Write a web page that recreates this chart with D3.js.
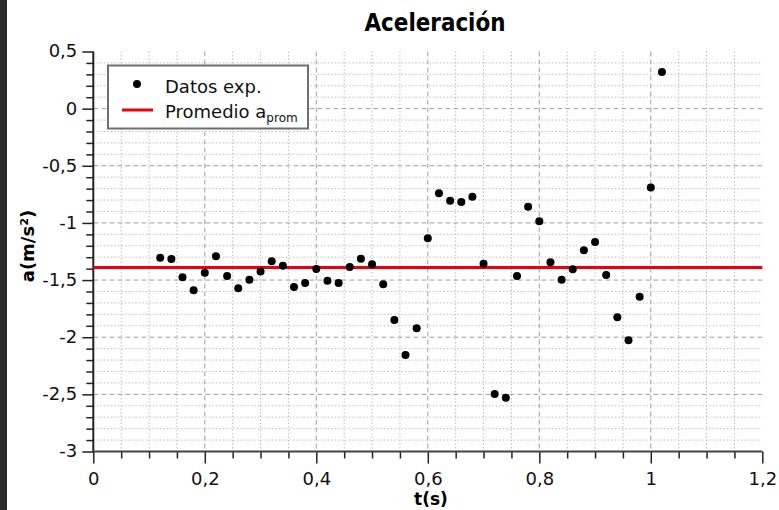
<!DOCTYPE html>
<html>
<head>
<meta charset="utf-8">
<script src="https://cdn.jsdelivr.net/npm/d3@7"></script>
<style>
  html, body { margin: 0; padding: 0; background: #fff; }
  svg { display: block; }
</style>
</head>
<body>
<svg id="chart" width="779" height="510"></svg>
<script>
// ---- Data ----
const tValues = [0.12,0.14,0.16,0.18,0.20,0.22,0.24,0.26,0.28,0.30,0.32,0.34,0.36,0.38,0.40,0.42,0.44,0.46,0.48,0.50,
                 0.52,0.54,0.56,0.58,0.60,0.62,0.64,0.66,0.68,0.70,0.72,0.74,0.76,0.78,0.80,0.82,0.84,0.86,0.88,0.90,
                 0.92,0.94,0.96,0.98,1.00,1.02];
const aValues = [-1.305,-1.316,-1.476,-1.590,-1.436,-1.292,-1.465,-1.572,-1.497,-1.424,-1.336,-1.375,-1.561,-1.526,-1.403,-1.506,-1.526,-1.386,-1.313,-1.362,
                 -1.537,-1.850,-2.156,-1.922,-1.135,-0.741,-0.806,-0.817,-0.771,-1.357,-2.497,-2.530,-1.465,-0.858,-0.986,-1.345,-1.497,-1.406,-1.240,-1.167,
                 -1.456,-1.826,-2.027,-1.646,-0.689,0.320];
const aProm = -1.39;
const xTicks = [0, 0.2, 0.4, 0.6, 0.8, 1, 1.2];
const xTickLabels = ["0", "0,2", "0,4", "0,6", "0,8", "1", "1,2"];
const yTicks = [-3, -2.5, -2, -1.5, -1, -0.5, 0, 0.5];
const yTickLabels = ["-3", "-2,5", "-2", "-1,5", "-1", "-0,5", "0", "0,5"];
const titleText = "Aceleración";
const xLabel = "t(s)";
const yLabel = "a(m/s²)";
const legendLabels = ["Datos exp.", "Promedio a"];
const legendSub = "prom";

// ---- Layout ----
const svg = d3.select("#chart");
const x = d3.scaleLinear().domain([0, 1.2]).range([93.3, 762.3]);
const y = d3.scaleLinear().domain([-3, 0.5]).range([451.5, 51.5]);
const font = "'DejaVu Sans', Verdana, sans-serif";

// dark strip on the left
svg.append("rect").attr("x", 0).attr("y", 0).attr("width", 7).attr("height", 510).attr("fill", "#2b2b2b");

// minor grid
const xMinor = d3.range(1, 24).map(i => i * 0.05).filter(v => Math.abs(v / 0.2 - Math.round(v / 0.2)) > 1e-6);
const yMinor = d3.range(-29, 5).map(i => i * 0.1).filter(v => Math.abs(v / 0.5 - Math.round(v / 0.5)) > 1e-6);
const grid = svg.append("g");
grid.selectAll(".vmin").data(xMinor).join("line")
  .attr("x1", d => x(d)).attr("x2", d => x(d)).attr("y1", y(0.5)).attr("y2", y(-3))
  .attr("stroke", "#bdbdbd").attr("stroke-width", 1).attr("stroke-dasharray", "1.5,2");
grid.selectAll(".hmin").data(yMinor).join("line")
  .attr("x1", x(0)).attr("x2", x(1.2)).attr("y1", d => y(d)).attr("y2", d => y(d))
  .attr("stroke", "#bdbdbd").attr("stroke-width", 1).attr("stroke-dasharray", "1.5,2");
// major grid
grid.selectAll(".vmaj").data(xTicks.filter(v => v > 0 && v < 1.2)).join("line")
  .attr("x1", d => x(d)).attr("x2", d => x(d)).attr("y1", y(0.5)).attr("y2", y(-3))
  .attr("stroke", "#a0a0a0").attr("stroke-width", 1).attr("stroke-dasharray", "5,3");
grid.selectAll(".hmaj").data(yTicks.filter(v => v > -3 && v < 0.5)).join("line")
  .attr("x1", x(0)).attr("x2", x(1.2)).attr("y1", d => y(d)).attr("y2", d => y(d))
  .attr("stroke", "#a0a0a0").attr("stroke-width", 1).attr("stroke-dasharray", "5,3");

// axes
const gxMinor = svg.append("g").attr("transform", `translate(0,${y(-3)})`)
  .call(d3.axisBottom(x).tickValues(xMinor).tickSize(7).tickFormat(""));
const gyMinor = svg.append("g").attr("transform", `translate(${x(0)},0)`)
  .call(d3.axisLeft(y).tickValues(yMinor).tickSize(7).tickFormat(""));
const gx = svg.append("g").attr("transform", `translate(0,${y(-3)})`)
  .call(d3.axisBottom(x).tickValues(xTicks).tickSize(12).tickFormat((d, i) => xTickLabels[i]));
const gy = svg.append("g").attr("transform", `translate(${x(0)},0)`)
  .call(d3.axisLeft(y).tickValues(yTicks).tickSize(11).tickPadding(5).tickFormat((d, i) => yTickLabels[i]));
[gx, gy, gxMinor, gyMinor].forEach(g => {
  g.select(".domain").remove();
  g.selectAll(".tick line").attr("stroke", "#222").attr("stroke-width", 1.5);
});
gx.selectAll("text").attr("y", 33).attr("dy", 0)
  .attr("font-family", font).attr("font-size", 18).attr("fill", "#111");
gy.selectAll("text").attr("dy", "0.3em")
  .attr("font-family", font).attr("font-size", 18).attr("fill", "#111");
// axis lines
svg.append("line").attr("x1", x(0)).attr("x2", x(0)).attr("y1", y(0.5)).attr("y2", y(-3) + 1)
  .attr("stroke", "#222").attr("stroke-width", 2);
svg.append("line").attr("x1", x(0)).attr("x2", x(1.2)).attr("y1", y(-3)).attr("y2", y(-3))
  .attr("stroke", "#444").attr("stroke-width", 2);

// mean line
svg.append("line").attr("x1", x(0)).attr("x2", x(1.2)).attr("y1", y(aProm)).attr("y2", y(aProm))
  .attr("stroke", "#e8000b").attr("stroke-width", 3);

// points
svg.append("g").selectAll("circle").data(tValues).join("circle")
  .attr("cx", d => x(d)).attr("cy", (d, i) => y(aValues[i])).attr("r", 4).attr("fill", "#000");

// title and axis labels
svg.append("text").attr("x", 435).attr("y", 31).attr("text-anchor", "middle")
  .attr("font-family", "'DejaVu Sans Condensed', 'DejaVu Sans', sans-serif").attr("font-weight", "bold")
  .attr("font-size", 24).attr("textLength", 141).attr("lengthAdjust", "spacingAndGlyphs")
  .attr("fill", "#000").text(titleText);
svg.append("text").attr("x", 431).attr("y", 505).attr("text-anchor", "middle")
  .attr("font-family", font).attr("font-weight", "bold").attr("font-size", 17).attr("fill", "#000").text(xLabel);
svg.append("text").attr("transform", "translate(34,246) rotate(-90)").attr("text-anchor", "middle")
  .attr("font-family", font).attr("font-weight", "bold").attr("font-size", 18).attr("fill", "#000").text(yLabel);

// legend
const lg = svg.append("g");
lg.append("rect").attr("x", 108).attr("y", 65.5).attr("width", 200).attr("height", 63)
  .attr("fill", "#fff").attr("stroke", "#6e6e6e").attr("stroke-width", 2);
lg.append("circle").attr("cx", 137).attr("cy", 84).attr("r", 4).attr("fill", "#000");
lg.append("line").attr("x1", 122).attr("x2", 153).attr("y1", 110).attr("y2", 110)
  .attr("stroke", "#e8000b").attr("stroke-width", 3);
lg.append("text").attr("x", 165).attr("y", 93).attr("font-family", font).attr("font-size", 18)
  .attr("fill", "#111").text(legendLabels[0]);
const t2 = lg.append("text").attr("x", 165).attr("y", 118).attr("font-family", font).attr("font-size", 18)
  .attr("fill", "#111");
t2.append("tspan").text(legendLabels[1]);
t2.append("tspan").attr("dy", 4).attr("font-size", 12).text(legendSub);
</script>
</body>
</html>
